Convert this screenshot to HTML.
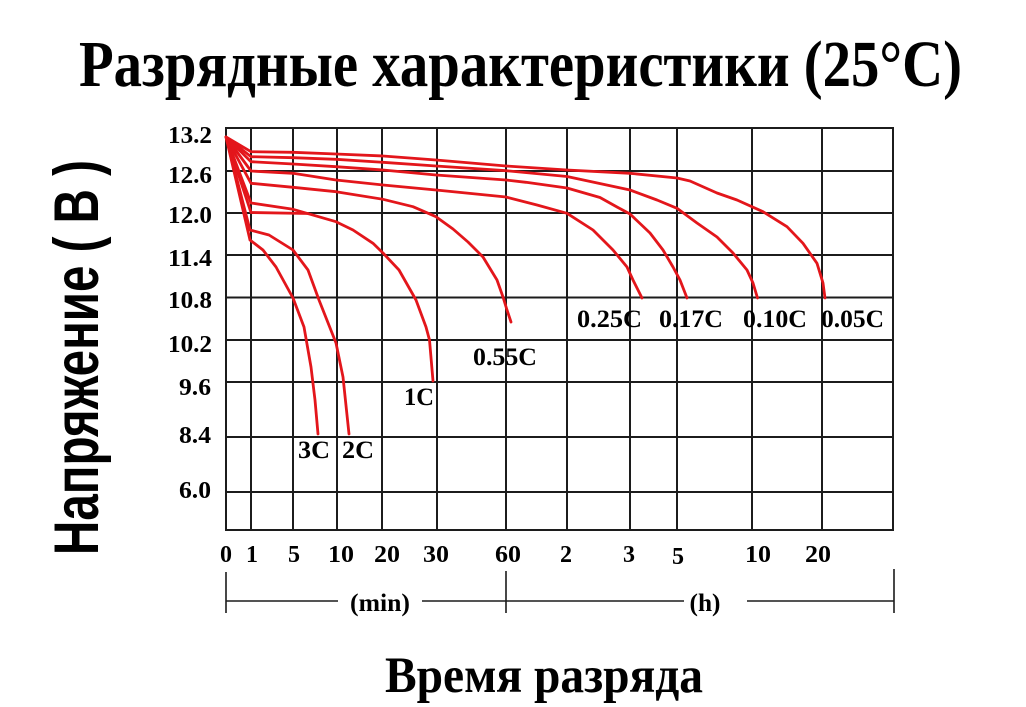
<!DOCTYPE html>
<html><head><meta charset="utf-8"><style>
html,body{margin:0;padding:0;background:#fff;}
svg{display:block;}
.t{font-family:"Liberation Serif","DejaVu Serif",serif;font-weight:bold;fill:#000;}
.s{font-family:"Liberation Sans","DejaVu Sans",sans-serif;font-weight:bold;fill:#000;}
</style></head><body>
<svg width="1026" height="707" viewBox="0 0 1026 707" xmlns="http://www.w3.org/2000/svg">
<rect width="1026" height="707" fill="#fff"/>
<text class="t" x="79" y="86" font-size="66" textLength="883" lengthAdjust="spacingAndGlyphs">Разрядные характеристики (25°C)</text>
<text class="s" transform="translate(98,555) rotate(-90)" x="0" y="0" font-size="63" textLength="395" lengthAdjust="spacingAndGlyphs">Напряжение ( В )</text>
<text class="t" x="385" y="692" font-size="51" textLength="318" lengthAdjust="spacingAndGlyphs">Время разряда</text>

<g stroke="#1c1c1c" stroke-width="2" fill="none">
<rect x="226" y="128" width="667" height="402"/>
<path d="M251 128V530M293 128V530M337 128V530M382 128V530M437 128V530M506 128V530M567 128V530M630 128V530M677 128V530M752 128V530M822 128V530"/>
<path d="M226 171H893M226 213H893M226 255H893M226 297.5H893M226 340H893M226 382H893M226 437H893M226 492H893"/>
</g>

<g class="t" font-size="24" text-anchor="end">
<text x="212" y="143" textLength="44" lengthAdjust="spacingAndGlyphs">13.2</text>
<text x="212" y="183" textLength="44" lengthAdjust="spacingAndGlyphs">12.6</text>
<text x="212" y="223" textLength="44" lengthAdjust="spacingAndGlyphs">12.0</text>
<text x="212" y="266" textLength="44" lengthAdjust="spacingAndGlyphs">11.4</text>
<text x="212" y="308" textLength="44" lengthAdjust="spacingAndGlyphs">10.8</text>
<text x="212" y="352" textLength="44" lengthAdjust="spacingAndGlyphs">10.2</text>
<text x="211" y="395" textLength="32" lengthAdjust="spacingAndGlyphs">9.6</text>
<text x="211" y="443" textLength="32" lengthAdjust="spacingAndGlyphs">8.4</text>
<text x="211" y="498" textLength="32" lengthAdjust="spacingAndGlyphs">6.0</text>
</g>

<g class="t" font-size="24" text-anchor="middle">
<text x="226" y="562">0</text>
<text x="252" y="562">1</text>
<text x="294" y="562">5</text>
<text x="341" y="562" textLength="26" lengthAdjust="spacingAndGlyphs">10</text>
<text x="387" y="562" textLength="26" lengthAdjust="spacingAndGlyphs">20</text>
<text x="436" y="562" textLength="26" lengthAdjust="spacingAndGlyphs">30</text>
<text x="508" y="562" textLength="26" lengthAdjust="spacingAndGlyphs">60</text>
<text x="566" y="562">2</text>
<text x="629" y="562">3</text>
<text x="678" y="564">5</text>
<text x="758" y="562" textLength="26" lengthAdjust="spacingAndGlyphs">10</text>
<text x="818" y="562" textLength="26" lengthAdjust="spacingAndGlyphs">20</text>
</g>

<g stroke="#1c1c1c" stroke-width="1.6" fill="none">
<path d="M226 572V613M506 571V613M894 569V613"/>
<path d="M226 601H338M422 601H684M747 601H894"/>
</g>
<text class="t" x="380" y="611" font-size="25" text-anchor="middle" textLength="60" lengthAdjust="spacingAndGlyphs">(min)</text>
<text class="t" x="705" y="611" font-size="25" text-anchor="middle" textLength="31" lengthAdjust="spacingAndGlyphs">(h)</text>

<g stroke="#e3161b" stroke-width="2.8" fill="none" stroke-linejoin="round" stroke-linecap="round">
<polyline points="226,137 251,151.7 293,152.3 336,154 383,156 436,160 506,166 567,170 630,173.3 677,178 690,181 717,193 737,200 763,211.7 787,226.7 803,243.3 817,263.3 823,283 825,298"/>
<polyline points="226,137 251,156.7 293,157.7 336,159.3 383,162.3 436,166 506,170.7 567,176.5 630,190 657,200 677,208.3 697,223 717,237 733,253 747,270 753,283 757.5,298"/>
<polyline points="226,137 251,161.7 293,164 336,166.7 383,170 436,175 506,180 526,182.3 567,188 600,197.5 617,207 630,214 650,233 663,250 673,267 680,280 687,298"/>
<polyline points="226,137 251,171 293,173.3 336,180 383,185 436,190 506,197 537,205 567,213.3 593,230 613,250 627,267 633,280 642,298"/>
<polyline points="226,137 251,183.3 293,187.3 336,191.7 383,199.3 413,206.7 436,216.7 453,229 468,242 483,257 497,280 503,297 507,310 511,322"/>
<polyline points="226,137 251,203 293,209.3 336,221.7 353,230 373,243.3 383,253 399,270 416,300 426,327 429.5,340 433,381"/>
<polyline points="226,137 251,212.5 308,213.5"/>
<polyline points="226,137 250,230 269,235 293,250 308,270 319,300 336,343 343,377 349,434"/>
<polyline points="226,137 250,240 263,250 276,267 293,298 304,327 311,367 315,400 318,434"/>
</g>

<g class="t" font-size="25">
<text x="577" y="327" textLength="65" lengthAdjust="spacingAndGlyphs">0.25C</text>
<text x="659" y="327" textLength="64" lengthAdjust="spacingAndGlyphs">0.17C</text>
<text x="743" y="327" textLength="64" lengthAdjust="spacingAndGlyphs">0.10C</text>
<text x="821" y="327" textLength="63" lengthAdjust="spacingAndGlyphs">0.05C</text>
<text x="473" y="365" textLength="64" lengthAdjust="spacingAndGlyphs">0.55C</text>
<text x="404" y="405" textLength="30" lengthAdjust="spacingAndGlyphs">1C</text>
<text x="298" y="458" textLength="32" lengthAdjust="spacingAndGlyphs">3C</text>
<text x="342" y="458" textLength="32" lengthAdjust="spacingAndGlyphs">2C</text>
</g>
</svg>
</body></html>
